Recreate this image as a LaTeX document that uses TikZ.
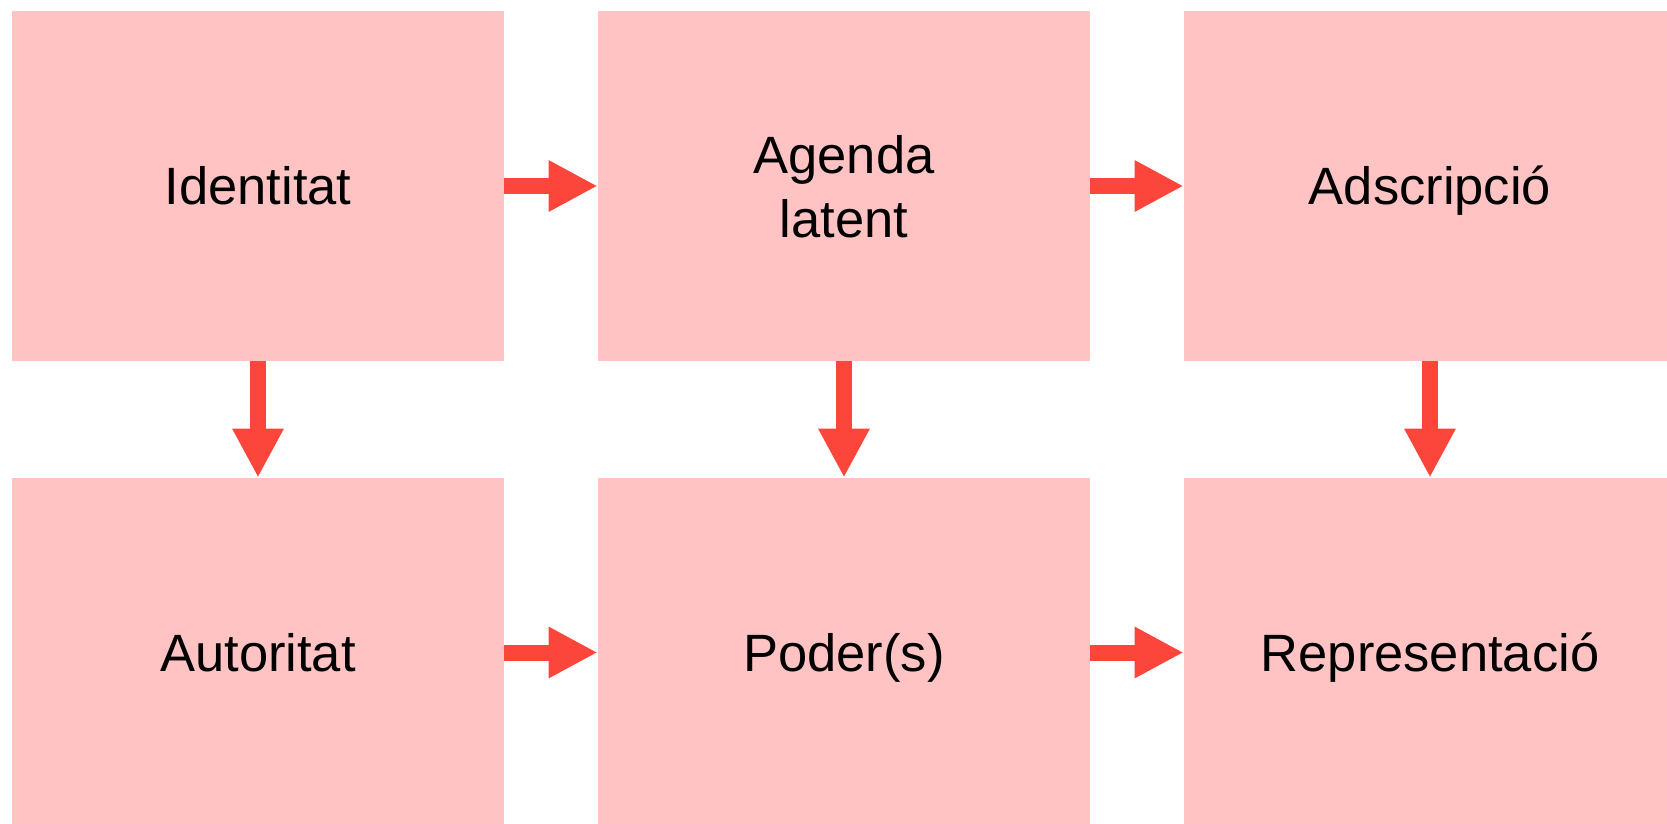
\documentclass[tikz,border=0pt]{standalone}
\usepackage{fontspec}
\setmainfont{Liberation Sans}
\usetikzlibrary{arrows.meta}
\definecolor{boxpink}{HTML}{FFC3C3}
\definecolor{arrred}{HTML}{FC453B}
\begin{document}
\begin{tikzpicture}[x=0.5pt,y=-0.5pt,
  cell/.style={rectangle, fill=boxpink, draw=none, inner sep=0pt,
    minimum width=246pt, minimum height=174.5pt, align=center,
    text height=19pt, text depth=0pt,
    font=\fontsize{26.25pt}{32pt}\selectfont},
  flow/.style={draw=arrred, line width=8pt,
    -{Triangle[length=24.5pt,width=24pt,fill=arrred]}}]
\useasboundingbox (0,0) rectangle (1667,824);
\node[cell] (ide) at (258,186) {Identitat};
\node[cell, text height=51pt] (age) at (844,186) {Agenda\\latent};
\node[cell] (ads) at (1430,186) {Adscripció};
\node[cell] (aut) at (258,652.5) {Autoritat};
\node[cell] (pod) at (844,652.5) {Poder(s)};
\node[cell] (rep) at (1430,652.5) {Representació};
\draw[flow] (ide.east) -- (age.west);
\draw[flow] (age.east) -- (ads.west);
\draw[flow] (aut.east) -- (pod.west);
\draw[flow] (pod.east) -- (rep.west);
\draw[flow] (ide.south) -- (aut.north);
\draw[flow] (age.south) -- (pod.north);
\draw[flow] (ads.south) -- (rep.north);
\end{tikzpicture}
\end{document}
